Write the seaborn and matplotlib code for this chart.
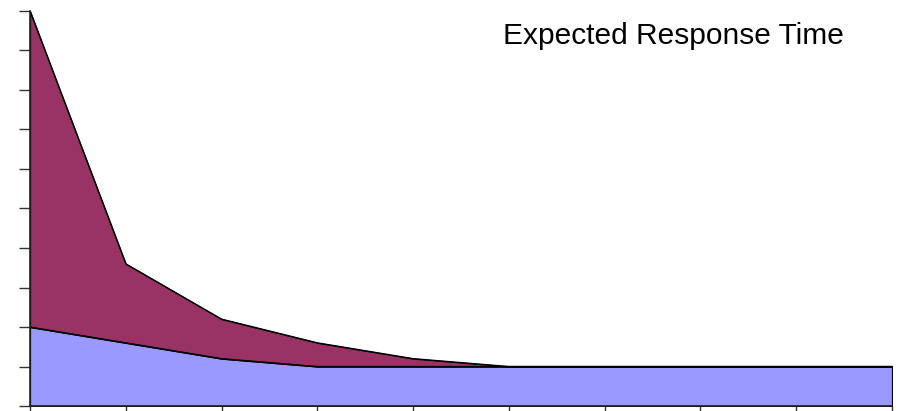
import matplotlib
matplotlib.use("Agg")
import matplotlib.pyplot as plt
import seaborn as sns
import pandas as pd

# Response-time components per step
steps = [0, 1, 2, 3, 4, 5, 6, 7, 8, 9]
base_time = [2.0, 1.6, 1.2, 1.0, 1.0, 1.0, 1.0, 1.0, 1.0, 1.0]
queue_time = [8.0, 2.0, 1.0, 0.6, 0.2, 0.0, 0.0, 0.0, 0.0, 0.0]
title_text = "Expected Response Time"

sns.set_style("white")
plt.rcParams["font.family"] = ["Liberation Sans", "DejaVu Sans"]

df = pd.DataFrame({"step": steps, "base": base_time, "queue": queue_time})
df["total"] = df["base"] + df["queue"]

W, H = 898, 411
fig = plt.figure(figsize=(W / 100, H / 100), dpi=100)
ax = fig.add_axes([30 / W, 5 / H, (892 - 30) / W, (406 - 11) / H])

ax.stackplot(df["step"], df["base"], df["queue"],
             colors=["#9999FF", "#993366"], edgecolor="black", linewidth=0.9)
sns.lineplot(data=df, x="step", y="total", color="black", linewidth=0.9, ax=ax)
sns.lineplot(data=df, x="step", y="base", color="black", linewidth=0.9, ax=ax)

ax.set_xlim(0, 9)
ax.set_ylim(0, 10)
ax.set_xticks(steps)
ax.set_yticks(range(0, 11))
ax.set_xticklabels([])
ax.set_yticklabels([])
ax.set_xlabel("")
ax.set_ylabel("")
ax.tick_params(axis="both", direction="out", length=8, width=1.0,
               color="#333333", left=True, bottom=True)
for side in ["top", "right"]:
    ax.spines[side].set_visible(False)
for side in ["left", "bottom"]:
    ax.spines[side].set_color("#222222")
    ax.spines[side].set_linewidth(1.2)

fig.text(503 / W, 1 - 43.5 / H, title_text, ha="left", va="baseline",
         fontsize=21.5, color="black")

fig.savefig("out.png", dpi=100)
